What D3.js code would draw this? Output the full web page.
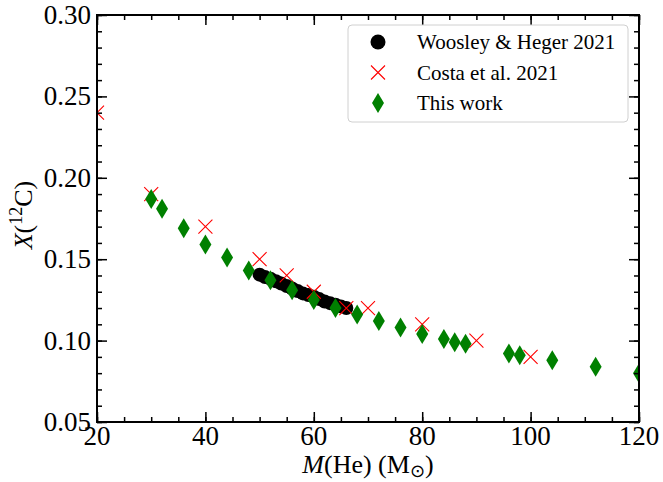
<!DOCTYPE html>
<html>
<head>
<meta charset="utf-8">
<script src="https://cdn.jsdelivr.net/npm/d3@7"></script>
<style>
  body { margin: 0; background: #fff; }
</style>
</head>
<body>
<svg id="chart" width="663" height="482"></svg>
<script>
// Woosley & Heger 2021
var whMass = [50, 51, 52, 53, 54, 55, 56, 57, 58, 59, 60, 61, 62, 63, 64, 65, 66];
var whC12 = [0.1405, 0.139, 0.138, 0.1365, 0.135, 0.1335, 0.132, 0.1305, 0.129, 0.128, 0.127, 0.1255, 0.124, 0.123, 0.122, 0.121, 0.120];

// Costa et al. 2021
var costaMass = [20, 30, 40, 50, 55, 60, 66, 70, 80, 90, 100];
var costaC12 = [0.240, 0.190, 0.170, 0.150, 0.140, 0.130, 0.120, 0.120, 0.110, 0.100, 0.090];

// This work
var workMass = [30, 32, 36, 40, 44, 48, 52, 56, 60, 64, 68, 72, 76, 80, 84, 86, 88, 96, 98, 104, 112, 120];
var workC12 = [0.187, 0.181, 0.169, 0.159, 0.151, 0.143, 0.137, 0.131, 0.125, 0.120, 0.116, 0.112, 0.108, 0.104, 0.101, 0.099, 0.098, 0.092, 0.091, 0.088, 0.084, 0.080];

var xTicks = [20, 40, 60, 80, 100, 120];
var yTicks = [0.05, 0.10, 0.15, 0.20, 0.25, 0.30];
var legendLabels = ["Woosley & Heger 2021", "Costa et al. 2021", "This work"];

(function () {
var svg = d3.select("#chart");
var pl = 97, pr = 639, pt = 15, pb = 422;
var serif = "Liberation Serif";

var x = d3.scaleLinear().domain([20, 120]).range([pl, pr]);
var y = d3.scaleLinear().domain([0.05, 0.30]).range([pb, pt]);

svg.append("clipPath").attr("id", "clip")
    .append("rect").attr("x", pl).attr("y", pt)
    .attr("width", pr - pl).attr("height", pb - pt);

var plot = svg.append("g").attr("clip-path", "url(#clip)");

var diamond = function (cx, cy, w, h) {
    return "M" + cx + "," + (cy - h / 2) + "L" + (cx + w / 2) + "," + cy +
        "L" + cx + "," + (cy + h / 2) + "L" + (cx - w / 2) + "," + cy + "Z";
};
var cross = function (cx, cy, s) {
    return "M" + (cx - s) + "," + (cy - s) + "L" + (cx + s) + "," + (cy + s) +
        "M" + (cx - s) + "," + (cy + s) + "L" + (cx + s) + "," + (cy - s);
};

plot.selectAll("circle.wh")
    .data(whMass)
    .enter()
    .append("circle")
    .attr("class", "wh")
    .attr("cx", function (d) { return x(d); })
    .attr("cy", function (d, i) { return y(whC12[i]); })
    .attr("r", 7)
    .attr("fill", "#000");

plot.selectAll("path.costa")
    .data(costaMass)
    .enter()
    .append("path")
    .attr("class", "costa")
    .attr("d", function (d, i) { return cross(x(d), y(costaC12[i]), 7); })
    .attr("stroke", "#ff0000")
    .attr("stroke-width", 1.1)
    .attr("fill", "none");

plot.selectAll("path.work")
    .data(workMass)
    .enter()
    .append("path")
    .attr("class", "work")
    .attr("d", function (d, i) { return diamond(x(d), y(workC12[i]), 12, 20); })
    .attr("fill", "#008000");

// tick marks, inward on all sides
var minorX = d3.range(20, 121, 5);
var minorY = d3.range(0.05, 0.3001, 0.01);

function addTicks(axis, tr, major, minor) {
    [[minor, -5], [major, -10]].forEach(function (m) {
        var g = svg.append("g").attr("transform", tr)
            .call(axis.tickValues(m[0]).tickSize(m[1]).tickFormat(""));
        g.select(".domain").remove();
        g.selectAll(".tick text").remove();
        g.selectAll(".tick line").attr("stroke", "#000").attr("stroke-width", 1.5);
    });
}

addTicks(d3.axisBottom(x), "translate(0," + pb + ")", xTicks, minorX);
addTicks(d3.axisTop(x), "translate(0," + pt + ")", xTicks, minorX);
addTicks(d3.axisLeft(y), "translate(" + pl + ",0)", yTicks, minorY);
addTicks(d3.axisRight(y), "translate(" + pr + ",0)", yTicks, minorY);

// tick labels
svg.selectAll("text.xlab")
    .data(xTicks)
    .enter()
    .append("text")
    .attr("class", "xlab")
    .attr("x", function (d) { return x(d); })
    .attr("y", 445)
    .attr("text-anchor", "middle")
    .attr("font-family", serif)
    .attr("font-size", 27)
    .text(function (d) { return d; });

svg.selectAll("text.ylab")
    .data(yTicks)
    .enter()
    .append("text")
    .attr("class", "ylab")
    .attr("x", pl - 6)
    .attr("y", function (d) { return y(d); })
    .attr("dy", "0.33em")
    .attr("text-anchor", "end")
    .attr("font-family", serif)
    .attr("font-size", 27)
    .text(function (d) { return d.toFixed(2); });

svg.append("rect")
    .attr("x", pl).attr("y", pt)
    .attr("width", pr - pl).attr("height", pb - pt)
    .attr("fill", "none").attr("stroke", "#000").attr("stroke-width", 2);

// axis titles
var xl = svg.append("text")
    .attr("x", (pl + pr) / 2).attr("y", 473)
    .attr("text-anchor", "middle").attr("font-family", serif).attr("font-size", 26);
xl.append("tspan").attr("font-style", "italic").text("M");
xl.append("tspan").text("(He) (M");
xl.append("tspan").attr("font-size", 18).attr("dy", 4)
    .attr("font-family", "DejaVu Sans").text("\u2299");
xl.append("tspan").attr("dy", -4).text(")");

var yl = svg.append("text")
    .attr("transform", "translate(32,215) rotate(-90)")
    .attr("text-anchor", "middle").attr("font-family", serif).attr("font-size", 26);
yl.append("tspan").attr("font-style", "italic").text("X");
yl.append("tspan").text("(");
yl.append("tspan").attr("font-size", 18).attr("dy", -10).text("12");
yl.append("tspan").attr("dy", 10).text("C)");

// legend
var lg = svg.append("g");
lg.append("rect")
    .attr("x", 348).attr("y", 25).attr("width", 280).attr("height", 97)
    .attr("rx", 4).attr("fill", "#fff").attr("stroke", "#d0d0d0").attr("stroke-width", 1);

lg.selectAll("text")
    .data(legendLabels)
    .enter()
    .append("text")
    .attr("x", 417)
    .attr("y", function (d, i) { return 42 + i * 30.5; })
    .attr("dy", "0.35em")
    .attr("font-family", serif)
    .attr("font-size", 21)
    .text(function (d) { return d; });

lg.append("circle").attr("cx", 378).attr("cy", 42).attr("r", 7.5).attr("fill", "#000");
lg.append("path").attr("d", cross(378, 72.5, 7)).attr("stroke", "#ff0000")
    .attr("stroke-width", 1.1).attr("fill", "none");
lg.append("path").attr("d", diamond(378, 103, 12, 20)).attr("fill", "#008000");
})();
</script>
</body>
</html>
